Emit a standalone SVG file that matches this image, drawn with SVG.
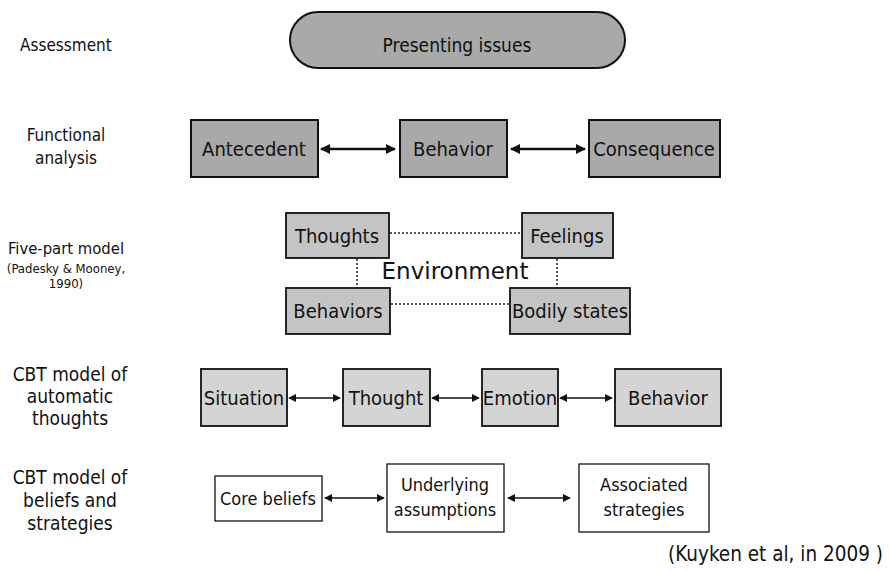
<svg xmlns="http://www.w3.org/2000/svg" width="890" height="571" viewBox="0 0 890 571">
<defs>
<style>
text{font-family:"DejaVu Sans Condensed","DejaVu Sans","Liberation Sans",sans-serif;font-stretch:condensed;fill:#111}
.lab{font-size:17px;text-anchor:middle}
.lab2{font-size:19px;text-anchor:middle}
.bt{font-size:20px;text-anchor:middle}
.dk{fill:#a9a9a9;stroke:#111;stroke-width:2}
.md{fill:#c4c4c4;stroke:#111;stroke-width:1.8}
.lt{fill:#d4d4d4;stroke:#111;stroke-width:1.8}
.wh{fill:#fff;stroke:#111;stroke-width:1.3}
.ar{stroke:#111;stroke-width:2.5;fill:none;marker-start:url(#ah);marker-end:url(#ah)}
.ar2{stroke:#111;stroke-width:1.5;fill:none;marker-start:url(#ah2);marker-end:url(#ah2)}
.dot{stroke:#222;stroke-width:1.5;stroke-dasharray:2 2;fill:none}
</style>
<marker id="ah" viewBox="0 0 10 10" refX="9" refY="5" markerWidth="4" markerHeight="4" orient="auto-start-reverse"><path d="M0,0L10,5L0,10z" fill="#111"/></marker>
<marker id="ah2" viewBox="0 0 10 10" refX="9" refY="5" markerWidth="5.5" markerHeight="5.5" orient="auto-start-reverse"><path d="M0,0L10,5L0,10z" fill="#111"/></marker>
</defs>
<rect width="890" height="571" fill="#fff"/>

<g id="labels">
<text x="20" y="51" style="font-size:17px">Assessment</text>
<text class="lab" x="66" y="141">Functional</text>
<text class="lab" x="66" y="164">analysis</text>
<text class="lab" x="66" y="254" style="font-size:16.5px">Five-part model</text>
<text class="lab" x="66" y="273" style="font-size:13px">(Padesky &amp; Mooney,</text>
<text class="lab" x="66" y="288" style="font-size:13px">1990)</text>
<text class="lab2" x="70" y="381">CBT model of</text>
<text class="lab2" x="70" y="403">automatic</text>
<text class="lab2" x="70" y="425">thoughts</text>
<text class="lab2" x="70" y="484">CBT model of</text>
<text class="lab2" x="70" y="507">beliefs and</text>
<text class="lab2" x="70" y="530">strategies</text>
</g>

<g id="presenting">
<rect class="dk" x="290" y="12" width="335" height="56" rx="28"/>
<text class="bt" x="457" y="52" style="font-size:19px">Presenting issues</text>
</g>

<g id="antecedent"><rect class="dk" x="191" y="120" width="127" height="57"/><text class="bt" x="254" y="156">Antecedent</text></g>
<g id="behavior1"><rect class="dk" x="400" y="120" width="107" height="57"/><text class="bt" x="453" y="156">Behavior</text></g>
<g id="consequence"><rect class="dk" x="589" y="120" width="131" height="57"/><text class="bt" x="654" y="156">Consequence</text></g>

<g id="thoughts"><rect class="md" x="286" y="213" width="103" height="45"/><text class="bt" x="337" y="243">Thoughts</text></g>
<g id="feelings"><rect class="md" x="522" y="213" width="91" height="45"/><text class="bt" x="567" y="243">Feelings</text></g>
<g id="behaviors"><rect class="md" x="286" y="288" width="104" height="46"/><text class="bt" x="338" y="318">Behaviors</text></g>
<g id="bodily"><rect class="md" x="510" y="288" width="120" height="46"/><text class="bt" x="570" y="318">Bodily states</text></g>
<g id="environment"><text x="455" y="279" style="font-family:'DejaVu Sans',sans-serif;font-stretch:normal;font-size:23px;text-anchor:middle">Environment</text></g>

<g id="situation"><rect class="lt" x="201" y="369" width="86" height="57"/><text class="bt" x="244" y="405">Situation</text></g>
<g id="thought"><rect class="lt" x="343" y="369" width="87" height="57"/><text class="bt" x="386" y="405">Thought</text></g>
<g id="emotion"><rect class="lt" x="482" y="369" width="76" height="57"/><text class="bt" x="520" y="405">Emotion</text></g>
<g id="behavior2"><rect class="lt" x="615" y="369" width="106" height="57"/><text class="bt" x="668" y="405">Behavior</text></g>

<g id="corebeliefs"><rect class="wh" x="215" y="476" width="107" height="45"/><text class="bt" x="268" y="505" style="font-size:18px">Core beliefs</text></g>
<g id="underlying"><rect class="wh" x="387" y="464" width="117" height="68"/><text class="bt" x="445" y="491" style="font-size:18px">Underlying</text><text class="bt" x="445" y="516" style="font-size:18px">assumptions</text></g>
<g id="associated"><rect class="wh" x="579" y="464" width="130" height="68"/><text class="bt" x="644" y="491" style="font-size:18px">Associated</text><text class="bt" x="644" y="516" style="font-size:18px">strategies</text></g>

<g id="citation"><text x="883" y="561" style="font-size:20.5px;text-anchor:end">(Kuyken et al, in 2009 )</text></g>

<g id="connectors">
<line class="ar" x1="321" y1="149" x2="395" y2="149"/>
<line class="ar" x1="511" y1="149" x2="585" y2="149"/>
<line class="dot" x1="390" y1="233" x2="522" y2="233"/>
<line class="dot" x1="391" y1="304" x2="510" y2="304"/>
<line class="dot" x1="357" y1="259" x2="357" y2="288"/>
<line class="dot" x1="557" y1="259" x2="557" y2="288"/>
<line class="ar2" x1="289" y1="398" x2="340" y2="398"/>
<line class="ar2" x1="432" y1="398" x2="479" y2="398"/>
<line class="ar2" x1="560" y1="398" x2="612" y2="398"/>
<line class="ar2" x1="325" y1="498" x2="384" y2="498"/>
<line class="ar2" x1="508" y1="498" x2="570" y2="498"/>
</g>
</svg>
